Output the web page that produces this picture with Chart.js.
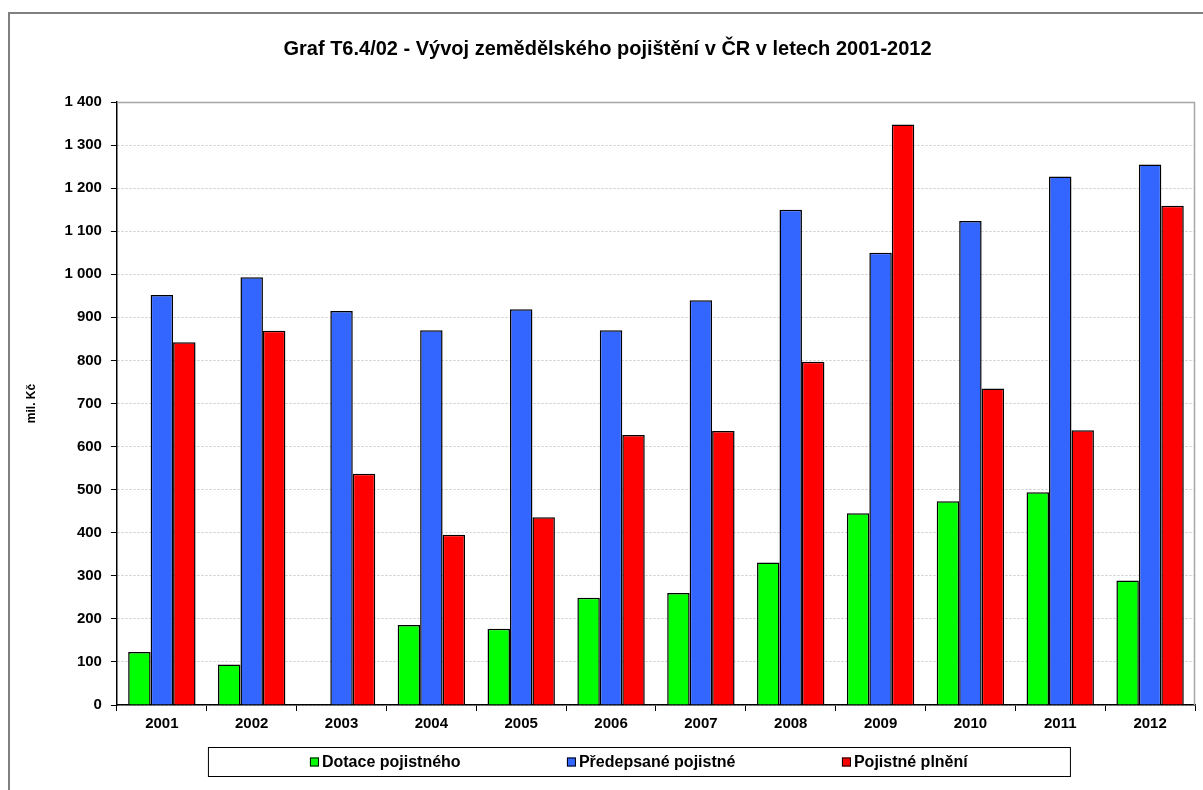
<!DOCTYPE html>
<html>
<head>
<meta charset="utf-8">
<script src="https://cdn.jsdelivr.net/npm/chart.js@4/dist/chart.umd.min.js"></script>
<style>
  html, body { margin: 0; padding: 0; background: #fff; }
  #wrap { width: 1203px; height: 790px; }
</style>
</head>
<body>
<div id="wrap"><canvas id="insChart" width="1203" height="790"></canvas></div>
<script>
// ====== data (mil. Kč)
const years = ['2001', '2002', '2003', '2004', '2005', '2006',
               '2007', '2008', '2009', '2010', '2011', '2012'];
const dotace = [123, 94, 0, 186, 177, 249, 260, 331, 445, 473, 494, 289];
const predepsane = [952, 993, 915, 870, 919, 870, 940, 1150, 1050, 1124, 1227, 1255];
const plneni = [842, 869, 537, 395, 436, 627, 636, 797, 1348, 735, 638, 1159];
const seriesNames = ['Dotace pojistného', 'Předepsané pojistné', 'Pojistné plnění'];
const seriesColors = ['#00ff00', '#3366ff', '#ff0000'];

const FONT = 'Arial, "Liberation Sans", sans-serif';

function spaced(v) {
  return String(v).replace(/\B(?=(\d{3})+(?!\d))/g, ' ');
}

// frame round the whole chart + box round the plot area
const framePlugin = {
  id: 'frame',
  beforeDraw(chart) {
    const c = chart.ctx;
    c.save();
    c.fillStyle = '#fff';
    c.fillRect(0, 0, chart.width, chart.height);
    c.strokeStyle = '#808080';
    c.lineWidth = 2;
    c.strokeRect(9, 13, chart.width + 10, chart.height + 10);
    c.restore();
  },
  beforeDatasetsDraw(chart) {
    const a = chart.chartArea, c = chart.ctx;
    c.save();
    c.strokeStyle = '#a6a6a6';
    c.lineWidth = 1.5;
    c.beginPath();
    c.moveTo(a.left, a.top + 0.5);
    c.lineTo(a.right - 0.5, a.top + 0.5);
    c.lineTo(a.right - 0.5, a.bottom);
    c.stroke();
    c.restore();
  }
};

// boxed legend under the axis
const boxLegend = {
  id: 'boxLegend',
  afterDraw(chart) {
    const a = chart.chartArea, c = chart.ctx;
    const left = a.left + 91, top = a.bottom + 42;
    const w = 862, h = 29;
    c.save();
    c.strokeStyle = '#000';
    c.lineWidth = 1;
    c.strokeRect(left + 0.5, top + 0.5, w, h);
    const starts = [102, 359, 634];
    c.font = 'bold 16px ' + FONT;
    c.textBaseline = 'middle';
    chart.data.datasets.forEach((ds, i) => {
      const x = left + starts[i], y = top + h / 2 + 0.5;
      c.fillStyle = ds.backgroundColor;
      c.fillRect(x, y - 4.5, 9, 9);
      c.strokeStyle = '#000';
      c.strokeRect(x + 0.5, y - 4, 8, 8);
      c.fillStyle = '#000';
      c.fillText(ds.label, x + 12, y + 1);
    });
    c.restore();
  }
};

const ctx = document.getElementById('insChart').getContext('2d');
const insChart = new Chart(ctx, {
  type: 'bar',
  data: {
    labels: years,
    datasets: [
      { label: seriesNames[0], data: dotace, backgroundColor: seriesColors[0] },
      { label: seriesNames[1], data: predepsane, backgroundColor: seriesColors[1] },
      { label: seriesNames[2], data: plneni, backgroundColor: seriesColors[2] }
    ]
  },
  options: {
    responsive: false,
    animation: false,
    devicePixelRatio: 1,
    layout: { padding: { left: 20, right: 8, top: 30, bottom: 53 } },
    datasets: {
      bar: {
        borderColor: '#000',
        borderWidth: 1.5,
        categoryPercentage: 0.75,
        barPercentage: 1
      }
    },
    plugins: {
      legend: { display: false },
      tooltip: { enabled: false },
      title: {
        display: true,
        text: 'Graf T6.4/02 - Vývoj zemědělského pojištění v ČR v letech 2001-2012',
        color: '#000',
        font: { family: FONT, size: 20, weight: 'bold' },
        padding: { top: 7, bottom: 41 }
      }
    },
    scales: {
      x: {
        grid: {
          offset: true,
          drawOnChartArea: false,
          drawTicks: true,
          tickLength: 6,
          tickColor: '#000'
        },
        border: { color: '#000', width: 1.5 },
        ticks: {
          color: '#000',
          padding: 4,
          maxRotation: 0,
          font: { family: FONT, size: 15, weight: 'bold' }
        }
      },
      y: {
        min: 0,
        max: 1400,
        ticks: {
          stepSize: 100,
          color: '#000',
          padding: 9,
          font: { family: FONT, size: 15, weight: 'bold' },
          callback: v => spaced(v)
        },
        grid: {
          color: '#c8c8c8',
          tickColor: '#000',
          tickLength: 6
        },
        border: { color: '#000', width: 1.5, dash: [2, 2] },
        title: {
          display: true,
          text: 'mil. Kč',
          color: '#000',
          font: { family: FONT, size: 12, weight: 'bold' },
          padding: { top: 4, bottom: 17 }
        }
      }
    }
  },
  plugins: [framePlugin, boxLegend]
});
</script>
</body>
</html>
